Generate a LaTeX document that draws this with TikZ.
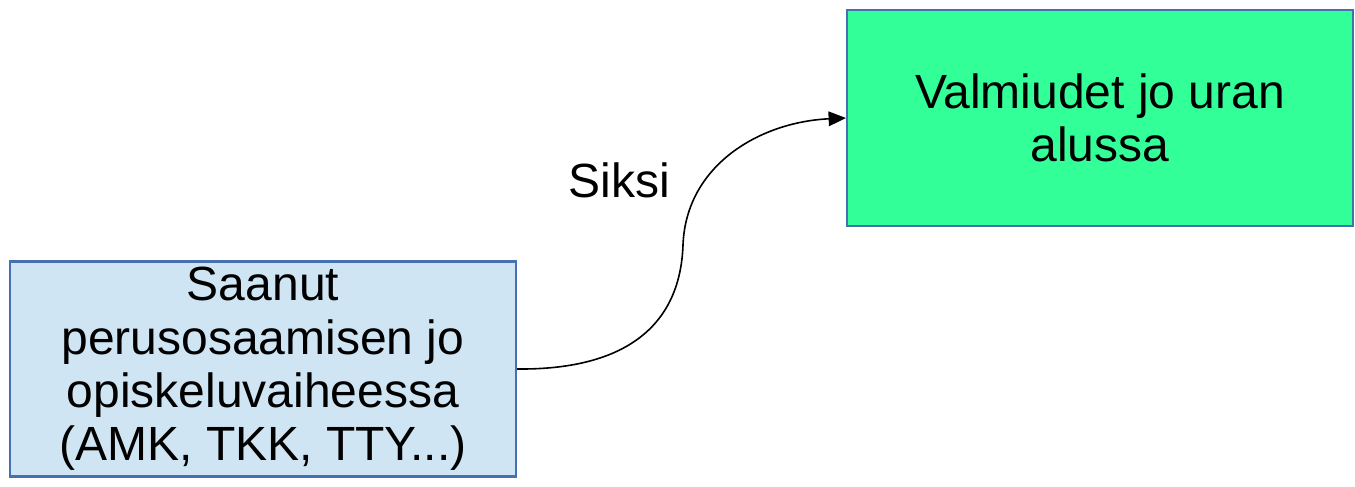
\documentclass[tikz,border=0pt]{standalone}
\usepackage{fontspec}
\setmainfont{Liberation Sans}
\usetikzlibrary{arrows.meta}
\definecolor{paleblue}{HTML}{CFE5F3}
\definecolor{mint}{HTML}{33FF99}
\definecolor{edgeblue}{HTML}{4670B0}
\begin{document}
\begin{tikzpicture}[x=0.75pt,y=-0.75pt,
  box/.style={draw=edgeblue,line width=1.6pt,inner sep=0pt,align=center,
    font=\fontsize{36}{40}\selectfont},
  link/.style={line width=1.2pt,-{Triangle[length=13pt,width=11pt]}}]
  \useasboundingbox (0,0) rectangle (1355,486);
  \node[box,fill=paleblue,minimum width=506*0.75pt,minimum height=215*0.75pt]
    (src) at (263,369) {Saanut\\perusosaamisen jo\\opiskeluvaiheessa\\(AMK, TKK, TTY...)};
  \node[box,fill=mint,minimum width=506*0.75pt,minimum height=216*0.75pt]
    (dst) at (1100,118) {Valmiudet jo uran\\alussa};
  \node[font=\fontsize{36}{40}\selectfont] (lbl) at (619,180) {Siksi};
  \draw[link] (src.east) .. controls (620,370) and (680,330) .. (683,245)
    .. controls (686,165) and (760,122) .. (dst.west);
\end{tikzpicture}
\end{document}
